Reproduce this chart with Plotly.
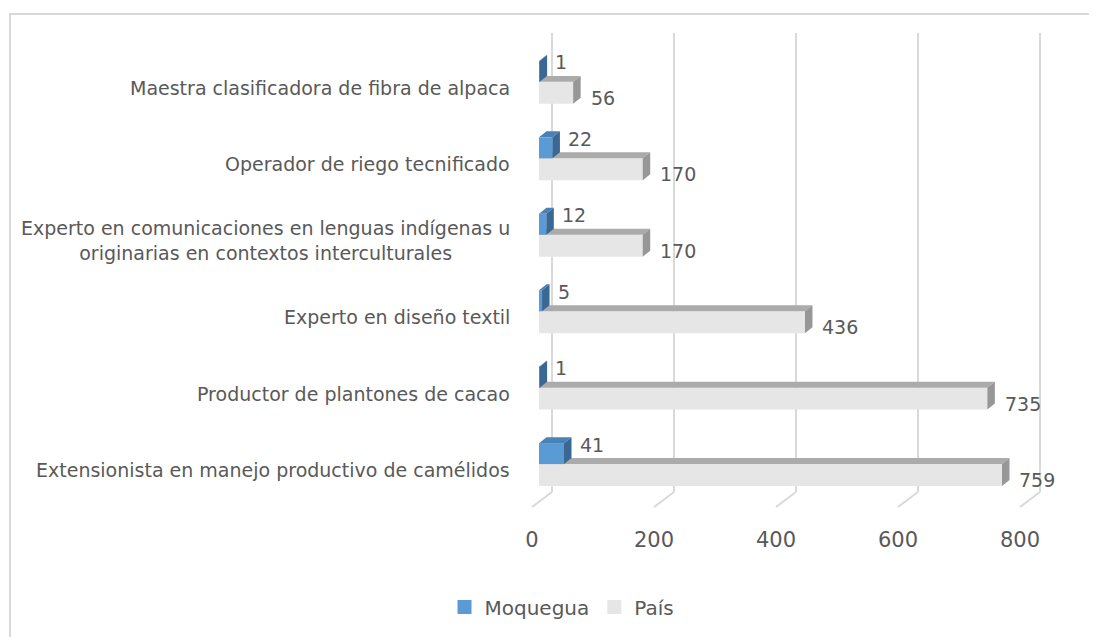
import plotly.graph_objects as go

# Datos (de abajo hacia arriba)
categorias = [
    "Extensionista en manejo productivo de camélidos",
    "Productor de plantones de cacao",
    "Experto en diseño textil",
    "Experto en comunicaciones en lenguas indígenas u<br>originarias en contextos interculturales",
    "Operador de riego tecnificado",
    "Maestra clasificadora de fibra de alpaca",
]
moquegua = [41, 1, 5, 12, 22, 1]
pais = [759, 735, 436, 170, 170, 56]
ticks_x = [0, 200, 400, 600, 800]

# page geometry (page pixels; the html body adds an 8 px margin)
PAGE_W, PAGE_H, OFF = 1097, 637, 8
PLOT_L, PLOT_R, PLOT_T, PLOT_B = 520, 1060, 20, 515
X0_PX = 539          # front face of the bars at value 0
ROW0_PX = 465        # boundary between the two series on the first row
PX_PER_UNIT = 0.61
PX_PER_ROW = 76.6
DEPTH_X, DEPTH_Y = 7.5, 6.0
BACK_X, FLOOR_X = 13, -7

TEXT = "#595959"
GRID = "#D9D9D9"
FONT = "DejaVu Sans"
BLUE, GREY = "#5B9BD5", "#E6E6E6"

x_min = -(X0_PX - PLOT_L) / PX_PER_UNIT
x_max = x_min + (PLOT_R - PLOT_L) / PX_PER_UNIT
y_min = -(PLOT_B - ROW0_PX) / PX_PER_ROW
y_max = (ROW0_PX - PLOT_T) / PX_PER_ROW


def row_at(py):
    return (ROW0_PX - py) / PX_PER_ROW


def paper_x(px):
    return (px - PLOT_L) / (PLOT_R - PLOT_L)


def paper_y(py):
    return (PLOT_B - py) / (PLOT_B - PLOT_T)


dx = DEPTH_X / PX_PER_UNIT
dy = DEPTH_Y / PX_PER_ROW
w_moq = 21 / PX_PER_ROW
w_pais = 22 / PX_PER_ROW
rows = list(range(len(categorias)))


def faces(values, lows, width):
    tx, ty, sx, sy = [], [], [], []
    for v, b in zip(values, lows):
        t = b + width
        tx += [0, v, v + dx, dx, 0, None]
        ty += [t, t, t + dy, t + dy, t, None]
        sx += [v, v, v + dx, v + dx, v, None]
        sy += [b, t, t + dy, b + dy, b, None]
    return tx, ty, sx, sy


def face_trace(x, y, color, z):
    return go.Scatter(
        x=x, y=y, mode="lines", fill="toself", fillcolor=color,
        line=dict(width=0, color=color), hoverinfo="skip",
        showlegend=False, zorder=z,
    )


fig = go.Figure()

# País (abajo)
fig.add_trace(go.Bar(
    name="País", y=rows, x=pais, orientation="h", width=w_pais,
    offset=-w_pais, marker=dict(color=GREY, line=dict(width=0)),
    zorder=0, showlegend=False,
))
tx, ty, sx, sy = faces(pais, [r - w_pais for r in rows], w_pais)
fig.add_trace(face_trace(tx, ty, "#ABABAB", 1))
fig.add_trace(face_trace(sx, sy, "#979797", 1))

# Moquegua (arriba)
fig.add_trace(go.Bar(
    name="Moquegua", y=rows, x=moquegua, orientation="h", width=w_moq,
    offset=0, marker=dict(color=BLUE, line=dict(width=0)),
    zorder=2, showlegend=False,
))
tx, ty, sx, sy = faces(moquegua, rows, w_moq)
fig.add_trace(face_trace(tx, ty, "#4A82B8", 3))
fig.add_trace(face_trace(sx, sy, "#3A6894", 3))

# legend entries with square swatches
for name, color in [("Moquegua", BLUE), ("País", GREY)]:
    fig.add_trace(go.Scatter(
        x=[None], y=[None], mode="markers", name=name,
        marker=dict(symbol="square", size=14, color=color),
    ))

# axis carrying the tick labels on the floor front edge
fig.add_trace(go.Scatter(x=[None], y=[None], xaxis="x2", showlegend=False))

shapes = []
for t in ticks_x:
    shapes.append(dict(
        type="line", xref="x", yref="y", xsizemode="pixel", xanchor=t,
        x0=BACK_X, x1=BACK_X, y0=row_at(493), y1=row_at(33),
        line=dict(color=GRID, width=2), layer="below",
    ))
    shapes.append(dict(
        type="line", xref="x", yref="y", xsizemode="pixel", xanchor=t,
        x0=BACK_X, x1=FLOOR_X, y0=row_at(493), y1=row_at(508),
        line=dict(color=GRID, width=2), layer="below",
    ))
# chart border
shapes.append(dict(
    type="rect", xref="paper", yref="paper",
    x0=paper_x(10), x1=paper_x(1120), y0=paper_y(660), y1=paper_y(14),
    line=dict(color=GRID, width=2), layer="below",
))

annotations = []
for r, name in enumerate(categorias):
    annotations.append(dict(
        x=0, xref="paper", xshift=512 - PLOT_L, xanchor="right",
        y=r - 6 / PX_PER_ROW, yref="y", yanchor="middle",
        text=name, align="center", showarrow=False,
        font=dict(family=FONT, size=19, color=TEXT),
    ))
for r, v in enumerate(moquegua):
    annotations.append(dict(
        x=v, xref="x", xanchor="left", xshift=DEPTH_X + 6,
        y=r + w_moq / 2 + 9 / PX_PER_ROW, yref="y", yanchor="middle",
        text=str(v), showarrow=False,
        font=dict(family=FONT, size=19, color=TEXT),
    ))
for r, v in enumerate(pais):
    annotations.append(dict(
        x=v, xref="x", xanchor="left", xshift=DEPTH_X + 8,
        y=r - w_pais / 2 - 5 / PX_PER_ROW, yref="y", yanchor="middle",
        text=str(v), showarrow=False,
        font=dict(family=FONT, size=19, color=TEXT),
    ))

shift = -FLOOR_X / PX_PER_UNIT
fig.update_layout(
    width=PAGE_W - OFF, height=PAGE_H - OFF,
    margin=dict(l=PLOT_L - OFF, r=PAGE_W - PLOT_R,
                t=PLOT_T - OFF, b=PAGE_H - PLOT_B),
    paper_bgcolor="white", plot_bgcolor="white",
    barmode="overlay",
    font=dict(family=FONT, size=19, color=TEXT),
    xaxis=dict(range=[x_min, x_max], showgrid=False, zeroline=False,
               showticklabels=False, showline=False, fixedrange=True),
    xaxis2=dict(range=[x_min + shift, x_max + shift], overlaying="x",
                side="bottom", anchor="y", tickvals=ticks_x,
                showgrid=False, zeroline=False, showline=False,
                ticks="", ticklabelstandoff=11,
                tickfont=dict(family=FONT, size=21, color=TEXT)),
    yaxis=dict(range=[y_min, y_max], showgrid=False, zeroline=False,
               showticklabels=False, showline=False, fixedrange=True),
    legend=dict(orientation="h", x=paper_x(562), xanchor="center",
                y=paper_y(607), yanchor="middle", itemwidth=30,
                font=dict(family=FONT, size=20, color=TEXT)),
    shapes=shapes,
    annotations=annotations,
    showlegend=True,
)

fig.write_html("out.html")
